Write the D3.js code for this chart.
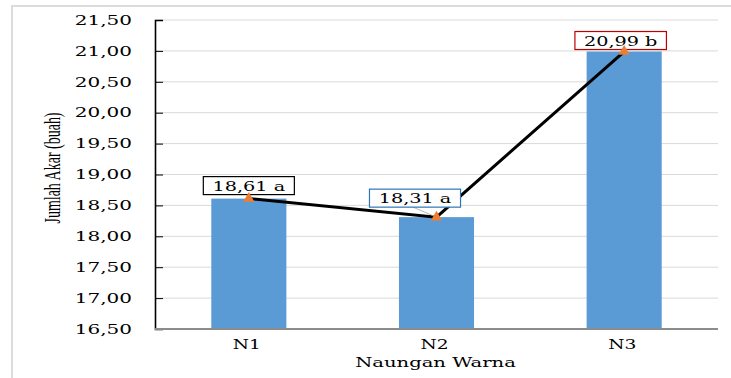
<!DOCTYPE html>
<html>
<head>
<meta charset="utf-8">
<script src="https://cdn.jsdelivr.net/npm/d3@7"></script>
<style>
  html, body { margin: 0; padding: 0; background: #fff; }
  svg { display: block; }
  text { font-family: "DejaVu Serif", serif; fill: #000; }
  text.ytitle { font-family: "Liberation Serif", "Times New Roman", serif; }
</style>
</head>
<body>
<svg id="chart" width="731" height="378"></svg>
<script>
// Data: number of roots per shade colour treatment
const categories = ["N1", "N2", "N3"];
const values = [18.61, 18.31, 20.99];
const notations = ["a", "a", "b"];
const yTicks = [16.5, 17.0, 17.5, 18.0, 18.5, 19.0, 19.5, 20.0, 20.5, 21.0, 21.5];
const xTitle = "Naungan Warna";
const yTitle = "Jumlah Akar (buah)";

// Label box styling per category (border colour and offset from the point)
const labelStyle = [
  { stroke: "#000000", dx: 0,     dy: -8,  leader: false },
  { stroke: "#2e75b6", dx: -21.5, dy: -14, leader: true },
  { stroke: "#c00000", dx: -3.5,  dy: -6,  leader: false }
];

const svg = d3.select("#chart");
const W = 731, H = 378;
const margin = { left: 155, right: 13, top: 20, bottom: 49 };
const plotW = W - margin.left - margin.right;
const plotH = H - margin.top - margin.bottom;

// outer frame
svg.append("path")
  .attr("d", `M12,${H} L12,6 L${W},6`)
  .attr("fill", "none").attr("stroke", "#dcdcdc").attr("stroke-width", 2);

const g = svg.append("g").attr("transform", `translate(${margin.left},${margin.top})`);

const x = d3.scaleBand().domain(categories).range([0, plotW]).paddingInner(0.6).paddingOuter(0.3);
const y = d3.scaleLinear().domain([16.5, 21.5]).range([plotH, 0]);

const fmt = v => d3.format(".2f")(v).replace(".", ",");

// gridlines
g.append("g").selectAll("line").data(yTicks.slice(1)).join("line")
  .attr("x1", 0).attr("x2", plotW)
  .attr("y1", d => y(d)).attr("y2", d => y(d))
  .attr("stroke", "#d9d9d9").attr("stroke-width", 1);

// bars
g.append("g").selectAll("rect").data(values).join("rect")
  .attr("x", (d, i) => x(categories[i]))
  .attr("width", x.bandwidth())
  .attr("y", d => y(d))
  .attr("height", d => plotH - y(d))
  .attr("fill", "#5b9bd5");

// y axis (ticks point inward)
const yAxis = g.append("g")
  .call(d3.axisLeft(y).tickValues(yTicks).tickSize(-8).tickFormat(""));
yAxis.select(".domain").attr("stroke", "#000").attr("stroke-width", 1.6);
yAxis.selectAll(".tick line").attr("stroke", "#000").attr("stroke-width", 1);

// y tick labels, horizontally widened
g.append("g").selectAll("text").data(yTicks).join("text")
  .attr("transform", d => `translate(-23,${y(d)}) scale(1.6,1)`)
  .attr("text-anchor", "end")
  .attr("dy", "0.38em")
  .attr("font-size", 12.5)
  .text(fmt);

// x axis line
g.append("line")
  .attr("x1", 0).attr("x2", plotW).attr("y1", plotH).attr("y2", plotH)
  .attr("stroke", "#8c8c8c").attr("stroke-width", 2);

// x category labels
g.append("g").selectAll("text").data(categories).join("text")
  .attr("transform", d => `translate(${x(d) + x.bandwidth() / 2 - 2},${plotH + 20}) scale(1.55,1)`)
  .attr("text-anchor", "middle")
  .attr("font-size", 12)
  .text(d => d);

// axis titles
svg.append("text")
  .attr("transform", `translate(${margin.left + plotW / 2 - 1},367) scale(1.45,1)`)
  .attr("text-anchor", "middle")
  .attr("font-size", 13.5)
  .text(xTitle);

svg.append("text")
  .attr("class", "ytitle")
  .attr("transform", `translate(60,168) scale(1.6,1) rotate(-90)`)
  .attr("text-anchor", "middle")
  .attr("font-size", 14)
  .text(yTitle);

// connecting line
const pts = values.map((v, i) => [x(categories[i]) + x.bandwidth() / 2, y(v)]);
g.append("path")
  .attr("d", d3.line()(pts))
  .attr("fill", "none").attr("stroke", "#000").attr("stroke-width", 3);

// point labels with boxes
const lab = g.append("g");
const labStretch = 1.54;
values.forEach((v, i) => {
  const s = labelStyle[i];
  const [px, py] = pts[i];
  const cx = px + s.dx, cy = py + s.dy;
  const grp = lab.append("g");
  const rect = grp.append("rect");
  const t = grp.append("text")
    .attr("transform", `translate(${cx},${cy}) scale(${labStretch},1)`)
    .attr("text-anchor", "middle")
    .attr("font-size", 12.5)
    .text(`${fmt(v)} ${notations[i]}`);
  const bb = t.node().getBBox();
  const bw = bb.width * labStretch + 18, bh = 18;
  rect.attr("x", cx - bw / 2).attr("y", cy - 14)
    .attr("width", bw).attr("height", bh)
    .attr("fill", "#fff").attr("stroke", s.stroke).attr("stroke-width", 1.2);
  if (s.leader) {
    grp.insert("line", "rect")
      .attr("x1", cx - 2).attr("y1", cy + 4).attr("x2", px).attr("y2", py)
      .attr("stroke", "#a6a6a6").attr("stroke-width", 0.8);
  }
});

// triangle markers
g.append("g").selectAll("path").data(pts).join("path")
  .attr("transform", d => `translate(${d[0]},${d[1]})`)
  .attr("d", d3.symbol(d3.symbolTriangle, 55)())
  .attr("fill", "#ed7d31");
</script>
</body>
</html>
